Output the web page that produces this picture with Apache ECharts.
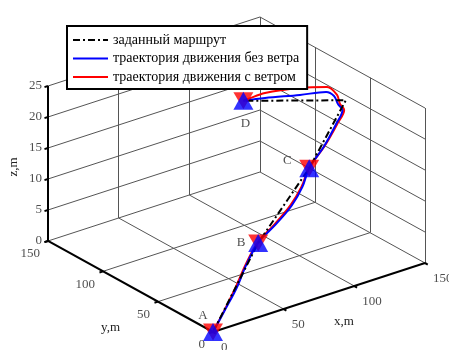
<!DOCTYPE html>
<html>
<head>
<meta charset="utf-8">
<script src="https://cdn.jsdelivr.net/npm/echarts@6/dist/echarts.min.js"></script>
<style>
html,body{margin:0;padding:0;background:#fff;}
#chart{width:449px;height:350px;}
</style>
</head>
<body>
<div id="chart"></div>
<script>
// ---- data ----
const xTicks = [0, 50, 100, 150];
const yTicks = [0, 50, 100, 150];
const zTicks = [0, 5, 10, 15, 20, 25];
const seriesNames = ['заданный маршрут', 'траектория движения без ветра', 'траектория движения с ветром'];
// planned route waypoints [x, y, z]
const route = [[0,0,0],[67,45,5],[100,41,15],[136,54,22],[90,88,22]];
// named waypoints
const waypointNames = ['A', 'B', 'C', 'D'];
const waypoints = [[0,0,0],[67,45,5],[100,41,15],[90,88,22]];
// trajectory without wind
const trajNoWind = [[0,0,0],[17,11,1.2],[34,22,2.5],[50,34,3.8],[67,45,5],[77.5,42.3,7.5],[87.1,40.3,10],[94.4,40,12.5],[100,41,15],[113.3,44.3,17.3],[125.3,48.7,19.6],[131.5,51.3,21],[129.5,52.8,22],[134.2,62.4,22],[133.9,69.2,22],[119.9,75,22],[101.9,83.6,22],[90,88,22]];
// trajectory with wind
const trajWind = [[0,0,0],[17,11.3,1.2],[33.5,22.5,2.5],[50,34.5,3.8],[67,45.5,5],[77,42.8,7.5],[86.5,40.8,10],[94,40.3,12.5],[100,41.2,15],[113.5,44.2,17.3],[126,48.5,19.6],[132.5,51,21],[130.4,52.1,22],[136.4,62.5,22],[138.4,74.1,22],[125.5,82.2,22],[105.9,88.8,22],[93.5,88.3,22],[90,88,22]];

// ---- orthographic projection of the 3-D box onto the 2-D canvas ----
const O = [213, 332], EX = [1.4133, -0.46], EY = [-1.1, -0.6067], EZ = [0, -6.2];
function proj(p){
  return [O[0] + p[0]*EX[0] + p[1]*EY[0] + p[2]*EZ[0],
          O[1] + p[0]*EX[1] + p[1]*EY[1] + p[2]*EZ[1]];
}
const xMax = xTicks[xTicks.length-1], yMax = yTicks[yTicks.length-1], zMax = zTicks[zTicks.length-1];

// grid lines
const gridSegs = [], axisSegs = [];
function seg(a, b, arr){ arr.push({coords: [proj(a), proj(b)]}); }
// floor
xTicks.forEach(x => seg([x,0,0],[x,yMax,0], x === 0 ? axisSegs : gridSegs));
yTicks.forEach(y => seg([0,y,0],[xMax,y,0], y === 0 ? axisSegs : gridSegs));
// back wall y = yMax
xTicks.forEach(x => seg([x,yMax,0],[x,yMax,zMax], x === 0 ? axisSegs : gridSegs));
zTicks.forEach(z => { if (z>0) seg([0,yMax,z],[xMax,yMax,z], gridSegs); });
// back wall x = xMax
yTicks.forEach(y => seg([xMax,y,0],[xMax,y,zMax], gridSegs));
zTicks.forEach(z => { if (z>0) seg([xMax,0,z],[xMax,yMax,z], gridSegs); });
// tick marks
xTicks.forEach(x => seg([x,0,0],[x,-2.5,0], axisSegs));
yTicks.forEach(y => seg([0,y,0],[-2.5,y,0], axisSegs));
zTicks.forEach(z => seg([0,yMax,z],[-2.5,yMax,z], axisSegs));

const serif = 'Liberation Serif';
const tickFont = {fontFamily: serif, fontSize: 13, color: '#222'};

const chart = echarts.init(document.getElementById('chart'), null, {renderer: 'canvas'});
chart.setOption({
  animation: false,
  backgroundColor: '#fff',
  grid: {left: 0, right: 0, top: 0, bottom: 0},
  xAxis: {type: 'value', min: 0, max: 449, show: false},
  yAxis: {type: 'value', min: 0, max: 350, inverse: true, show: false},
  legend: {
    data: seriesNames,
    left: 67, top: 26, orient: 'vertical',
    backgroundColor: '#fff', borderColor: '#000', borderWidth: 2, borderRadius: 0,
    padding: [7, 8, 5, 5], itemGap: 4.5, itemWidth: 35, itemHeight: 12,
    itemStyle: {opacity: 0},
    textStyle: {fontFamily: serif, fontSize: 14, lineHeight: 14, color: '#000'}
  },
  graphic: [
    {type: 'text', left: 334, top: 315, style: {text: 'x,m', font: '13px "Liberation Serif"', fill: '#222'}},
    {type: 'text', left: 101, top: 321, style: {text: 'y,m', font: '13px "Liberation Serif"', fill: '#222'}},
    {type: 'text', x: 14, y: 167, rotation: Math.PI/2, style: {text: 'z,m', font: '13px "Liberation Serif"', fill: '#222', align: 'center', verticalAlign: 'middle'}}
  ],
  series: [
    {type: 'lines', coordinateSystem: 'cartesian2d', silent: true, z: 1,
     lineStyle: {color: '#555', width: 1, opacity: 1}, data: gridSegs},
    {type: 'lines', coordinateSystem: 'cartesian2d', silent: true, z: 1,
     lineStyle: {color: '#000', width: 2, opacity: 1}, data: axisSegs},
    {type: 'scatter', symbolSize: 0, silent: true,
     data: xTicks.map(x => [...proj([x,0,0]), String(x)]),
     label: {show: true, position: 'right', distance: 8, offset: [0, 16], formatter: p => p.value[2], ...tickFont}},
    {type: 'scatter', symbolSize: 0, silent: true,
     data: yTicks.map(y => [...proj([0,y,0]), String(y)]),
     label: {show: true, position: 'left', distance: 8, offset: [0, 13], formatter: p => p.value[2], ...tickFont}},
    {type: 'scatter', symbolSize: 0, silent: true,
     data: zTicks.map(z => [...proj([0,yMax,z]), String(z)]),
     label: {show: true, position: 'left', distance: 6, offset: [0, 0], formatter: p => p.value[2], ...tickFont}},
    {name: seriesNames[2], type: 'line', z: 3, symbol: 'none', smooth: 0.35,
     data: trajWind.map(proj), lineStyle: {color: '#ff0000', width: 2}, itemStyle: {color: '#ff0000'}},
    {name: seriesNames[1], type: 'line', z: 4, symbol: 'none', smooth: 0.35,
     data: trajNoWind.map(proj), lineStyle: {color: '#0000ff', width: 2}, itemStyle: {color: '#0000ff'}},
    {name: seriesNames[0], type: 'line', z: 5, symbol: 'none',
     data: route.map(proj), lineStyle: {color: '#000', width: 2, type: [7, 3, 2, 3]}, itemStyle: {color: '#000'}},
    {type: 'scatter', z: 6, silent: true, symbol: 'triangle', symbolRotate: 180, symbolSize: [20, 17],
     itemStyle: {color: '#ff0000'}, data: waypoints.map(proj)},
    {type: 'scatter', z: 7, silent: true, symbol: 'triangle', symbolSize: [20, 18],
     itemStyle: {color: '#0000ff'}, data: waypoints.map(proj)},
    {type: 'scatter', z: 8, silent: true, symbolSize: 0,
     data: waypoints.map((w, i) => [...proj(w), waypointNames[i]]),
     label: {show: true, formatter: p => p.value[2], fontFamily: serif, fontSize: 13, color: '#222',
       position: 'inside'},
     labelLayout: function(params){
       const offs = [[-10,-16],[-17,0],[-22,-8],[2,23]];
       const o = offs[params.dataIndex];
       return {dx: o[0], dy: o[1]};
     }}
  ]
});
</script>
</body>
</html>
